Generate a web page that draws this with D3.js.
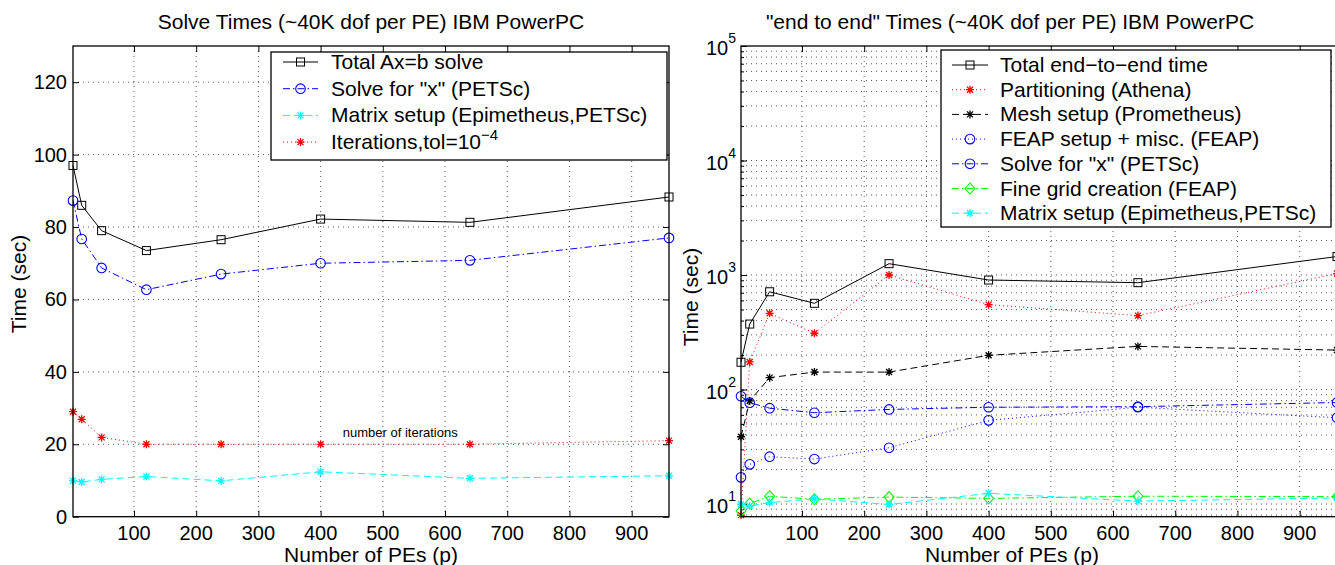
<!DOCTYPE html>
<html lang="en">
<head>
<meta charset="UTF-8">
<title>Solve and end-to-end times, IBM PowerPC</title>
<style>
  body { margin: 0; background: #fff; }
  svg { font-family: "Liberation Sans", Arial, sans-serif; }
  .grid line { stroke: #555; stroke-width: 1; stroke-dasharray: 1,4; }
</style>
<script src="https://d3js.org/d3.v7.min.js"></script>
</head>
<body>
<svg id="chart" width="1335" height="565"></svg>
<script>
// number of processors (shared by both panels)
const pes = [2, 16, 48, 120, 240, 400, 640, 960];
const xTicks = [100, 200, 300, 400, 500, 600, 700, 800, 900];

// left panel: solve times (linear)
const totalSolve = [97, 86, 79, 73.5, 76.5, 82.2, 81.3, 88.3];
const solveX = [87.3, 76.7, 68.7, 62.7, 67, 70, 70.8, 77];
const matrixSetup = [9.95, 9.6, 10.3, 11.1, 9.9, 12.4, 10.6, 11.3];
const iterations = [29, 26.9, 21.9, 20, 20, 20, 20, 21];
const leftYTicks = [0, 20, 40, 60, 80, 100, 120];

// right panel: end to end times (log)
const totalEnd = [173, 373, 714, 566, 1256, 904, 857, 1450];
const partitioning = [8, 174, 463, 310, 1000, 551, 442, 1030];
const meshSetup = [38.7, 79.5, 127, 142, 142, 199, 238, 221];
const feapSetup = [17.1, 22.2, 25.9, 24.7, 31, 53.8, 70, 56.7];
const fineGrid = [8.7, 10.1, 11.7, 11, 11.5, 11.2, 11.7, 11.6];
const rightYTicks = [1, 2, 3, 4, 5];   // exponents of 10

const svg = d3.select("#chart");
const plotTop = 46, plotBottom = 516.7;

const xL = d3.scaleLinear().domain([2, 960]).range([73, 669]);
const yL = d3.scaleLinear().domain([0, 130]).range([plotBottom, plotTop]);
const xR = d3.scaleLinear().domain([2, 960]).range([741, 1337]);
const yR = d3.scaleLog().domain([7.75, 1e5]).range([plotBottom, plotTop]);

const dashes = { solid: null, dash: "7,4", dot: "1,3", dashdot: "7,3,1.5,3" };

function marker(g, type, cx, cy, color) {
  if (type === "square") {
    g.append("rect").attr("x", cx - 4).attr("y", cy - 4).attr("width", 8).attr("height", 8)
      .attr("fill", "none").attr("stroke", color).attr("stroke-width", 1);
  } else if (type === "circle") {
    g.append("circle").attr("cx", cx).attr("cy", cy).attr("r", 4.8)
      .attr("fill", "none").attr("stroke", color).attr("stroke-width", 1.1);
  } else if (type === "diamond") {
    g.append("path").attr("d", `M${cx},${cy - 5.5}L${cx + 5},${cy}L${cx},${cy + 5.5}L${cx - 5},${cy}Z`)
      .attr("fill", "none").attr("stroke", color).attr("stroke-width", 1.1);
  } else if (type === "star") {
    const s = 4, d = 3;
    g.append("path")
      .attr("d", `M${cx - s},${cy}H${cx + s}M${cx},${cy - s}V${cy + s}` +
                 `M${cx - d},${cy - d}L${cx + d},${cy + d}M${cx - d},${cy + d}L${cx + d},${cy - d}`)
      .attr("stroke", color).attr("stroke-width", 1.3);
  }
}

function drawSeries(g, x, y, values, s) {
  const line = d3.line().x((d, i) => x(pes[i])).y(d => y(d));
  g.append("path").datum(values)
    .attr("fill", "none").attr("stroke", s.color).attr("stroke-width", 1)
    .attr("stroke-dasharray", dashes[s.dash])
    .attr("d", line);
  values.forEach((v, i) => marker(g, s.marker, x(pes[i]), y(v), s.color));
}

function frame(g, x, y, yGrid) {
  const x0 = x.range()[0], x1 = x.range()[1];
  const grid = g.append("g").attr("class", "grid");
  grid.selectAll("line.gx").data(xTicks).join("line")
    .attr("x1", d => x(d)).attr("x2", d => x(d)).attr("y1", plotTop).attr("y2", plotBottom);
  grid.selectAll("line.gy").data(yGrid).join("line")
    .attr("x1", x0).attr("x2", x1).attr("y1", d => y(d)).attr("y2", d => y(d));
  // inward ticks on bottom and top
  g.append("g").attr("transform", `translate(0,${plotBottom})`)
    .call(d3.axisBottom(x).tickValues(xTicks).tickSize(-6).tickFormat(""))
    .call(a => a.select(".domain").remove());
  g.append("g").attr("transform", `translate(0,${plotTop})`)
    .call(d3.axisTop(x).tickValues(xTicks).tickSize(-6).tickFormat(""))
    .call(a => a.select(".domain").remove());
  g.selectAll(".tick line").attr("stroke", "#000");
  // x tick labels
  g.append("g").selectAll("text").data(xTicks).join("text")
    .attr("x", d => x(d)).attr("y", plotBottom + 23)
    .attr("text-anchor", "middle").attr("font-size", 20).text(d => d);
}

// ---------------- left panel ----------------
const left = svg.append("g");
frame(left, xL, yL, leftYTicks.filter(d => d > 0));
left.append("g").attr("transform", `translate(73,0)`)
  .call(d3.axisLeft(yL).tickValues(leftYTicks).tickSize(-6).tickFormat(""))
  .call(a => a.select(".domain").remove());
left.append("g").attr("transform", `translate(669,0)`)
  .call(d3.axisRight(yL).tickValues(leftYTicks).tickSize(-6).tickFormat(""))
  .call(a => a.select(".domain").remove());
left.append("g").selectAll("text").data(leftYTicks).join("text")
  .attr("x", 67).attr("y", d => yL(d) + 7)
  .attr("text-anchor", "end").attr("font-size", 20).text(d => d);

const leftSeries = [
  { values: totalSolve, color: "#000", dash: "solid", marker: "square" },
  { values: solveX, color: "#0000ff", dash: "dashdot", marker: "circle" },
  { values: matrixSetup, color: "#00ffff", dash: "dash", marker: "star" },
  { values: iterations, color: "#ff0000", dash: "dot", marker: "star" }
];
leftSeries.forEach(s => drawSeries(left, xL, yL, s.values, s));

left.append("text").attr("x", xL(528)).attr("y", yL(23.4) + 5)
  .attr("text-anchor", "middle").attr("font-size", 13).text("number of iterations");

left.append("rect").attr("x", 73).attr("y", plotTop).attr("width", 596).attr("height", plotBottom - plotTop)
  .attr("fill", "none").attr("stroke", "#000").attr("stroke-width", 1.3);

left.append("text").attr("x", 371).attr("y", 29).attr("text-anchor", "middle")
  .attr("font-size", 21).text("Solve Times (~40K dof per PE) IBM PowerPC");
left.append("text").attr("x", 371).attr("y", 562).attr("text-anchor", "middle")
  .attr("font-size", 21).text("Number of PEs (p)");
left.append("text").attr("transform", "translate(26,284) rotate(-90)").attr("text-anchor", "middle")
  .attr("font-size", 21).text("Time (sec)");

// left legend
const legL = left.append("g");
legL.append("rect").attr("x", 271).attr("y", 52).attr("width", 396).attr("height", 108)
  .attr("fill", "#fff").attr("stroke", "#000").attr("stroke-width", 1.3);
const leftLabels = ["Total Ax=b solve", "Solve for \"x\" (PETSc)", "Matrix setup (Epimetheus,PETSc)", "Iterations,tol=10"];
leftSeries.forEach((s, i) => {
  const ly = 62 + i * 26.7;
  legL.append("line").attr("x1", 283).attr("x2", 318).attr("y1", ly).attr("y2", ly)
    .attr("stroke", s.color).attr("stroke-dasharray", dashes[s.dash]);
  marker(legL, s.marker, 300.5, ly, s.color);
  const t = legL.append("text").attr("x", 331).attr("y", ly + 7).attr("font-size", 21).text(leftLabels[i]);
  if (i === 3) t.append("tspan").attr("dy", -9).attr("font-size", 15).text("\u22124");
});

// ---------------- right panel ----------------
const right = svg.append("g");
const minorY = [];
for (let k = 0; k <= 4; k++) for (let m = 1; m <= 9; m++) {
  const v = m * Math.pow(10, k);
  if (v > 7.75 && v < 1e5) minorY.push(v);
}
frame(right, xR, yR, minorY);
const majorY = rightYTicks.map(e => Math.pow(10, e));
right.append("g").attr("transform", `translate(741,0)`)
  .call(d3.axisLeft(yR).tickValues(majorY).tickSize(-6).tickFormat(""))
  .call(a => a.select(".domain").remove());
right.append("g").attr("transform", `translate(741,0)`)
  .call(d3.axisLeft(yR).tickValues(minorY).tickSize(-3).tickFormat(""))
  .call(a => a.select(".domain").remove());
right.selectAll(".tick line").attr("stroke", "#000");
const yLab = right.append("g").selectAll("text").data(rightYTicks).join("text")
  .attr("x", 706).attr("y", d => yR(Math.pow(10, d)) + 9).attr("font-size", 20);
yLab.append("tspan").text("10");
yLab.append("tspan").attr("dy", -12).attr("font-size", 14).text(d => d);

const rightSeries = [
  { values: totalEnd, color: "#000", dash: "solid", marker: "square", label: "Total end\u2212to\u2212end time" },
  { values: partitioning, color: "#ff0000", dash: "dot", marker: "star", label: "Partitioning (Athena)" },
  { values: meshSetup, color: "#000", dash: "dash", marker: "star", label: "Mesh setup (Prometheus)" },
  { values: feapSetup, color: "#0000ff", dash: "dot", marker: "circle", label: "FEAP setup + misc. (FEAP)" },
  { values: solveX, color: "#0000ff", dash: "dashdot", marker: "circle", label: "Solve for \"x\" (PETSc)" },
  { values: fineGrid, color: "#00ff00", dash: "dashdot", marker: "diamond", label: "Fine grid creation (FEAP)" },
  { values: matrixSetup, color: "#00ffff", dash: "dash", marker: "star", label: "Matrix setup (Epimetheus,PETSc)" }
];
rightSeries.forEach(s => drawSeries(right, xR, yR, s.values, s));

right.append("rect").attr("x", 741).attr("y", plotTop).attr("width", 596).attr("height", plotBottom - plotTop)
  .attr("fill", "none").attr("stroke", "#000").attr("stroke-width", 1.3);

right.append("text").attr("x", 1010).attr("y", 29).attr("text-anchor", "middle")
  .attr("font-size", 21).text("\"end to end\" Times (~40K dof per PE) IBM PowerPC");
right.append("text").attr("x", 1012).attr("y", 562).attr("text-anchor", "middle")
  .attr("font-size", 21).text("Number of PEs (p)");
right.append("text").attr("transform", "translate(698,297) rotate(-90)").attr("text-anchor", "middle")
  .attr("font-size", 21).text("Time (sec)");

// right legend
const legR = right.append("g");
legR.append("rect").attr("x", 941).attr("y", 50).attr("width", 390).attr("height", 177)
  .attr("fill", "#fff").attr("stroke", "#000").attr("stroke-width", 1.3);
rightSeries.forEach((s, i) => {
  const ly = 65 + i * 24.7;
  legR.append("line").attr("x1", 952).attr("x2", 988).attr("y1", ly).attr("y2", ly)
    .attr("stroke", s.color).attr("stroke-dasharray", dashes[s.dash]);
  marker(legR, s.marker, 970, ly, s.color);
  legR.append("text").attr("x", 1000).attr("y", ly + 7).attr("font-size", 21).text(s.label);
});
</script>
</body>
</html>
